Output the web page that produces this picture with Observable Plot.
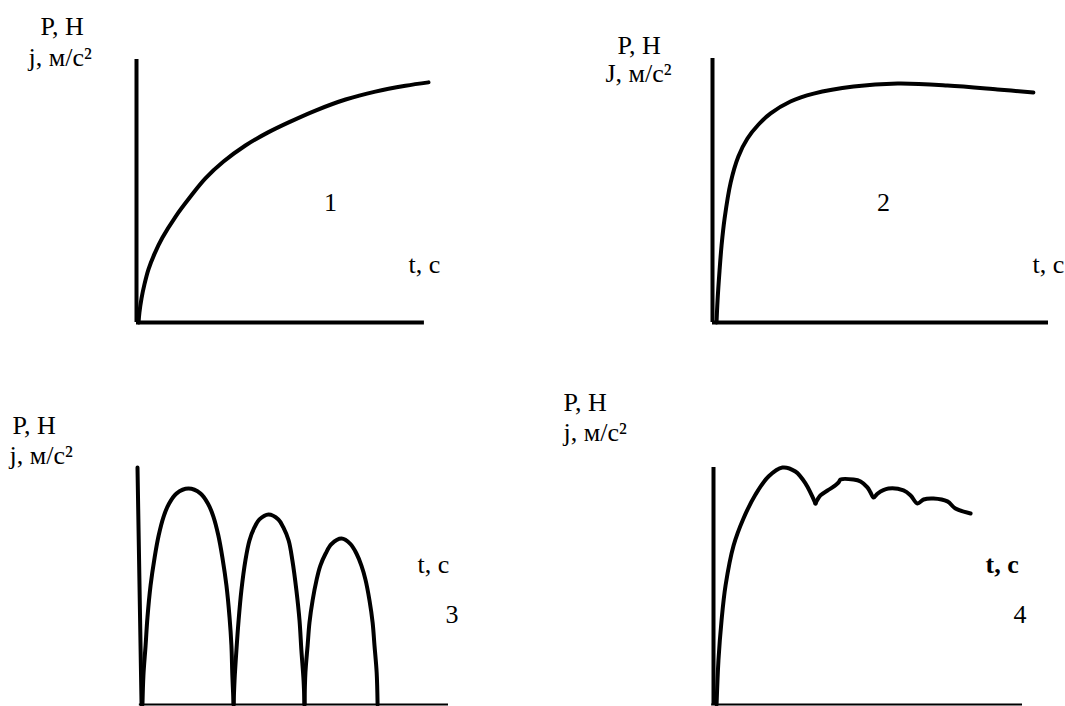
<!DOCTYPE html>
<html><head><meta charset="utf-8">
<script src="https://cdn.jsdelivr.net/npm/d3@7"></script>
<script src="https://cdn.jsdelivr.net/npm/@observablehq/plot@0.6"></script>
<style>
body{margin:0;background:#fff;}
#fig{position:relative;width:1065px;height:706px;overflow:hidden;background:#fff;}
.panel{position:absolute;}
#fig svg, #fig svg text{font-family:"Liberation Serif", "DejaVu Serif", serif !important;}
</style></head><body><div id="fig"></div>
<script>
// ---- Data (t in arbitrary seconds 0..10, value in % of axis height) ----
// Panel 1: smooth saturating rise
const t1 = [0.07, 0.10, 0.17, 0.27, 0.41, 0.62, 0.89, 1.34, 1.85, 2.36, 2.98, 3.73, 4.49, 5.27, 6.13, 7.16, 8.18, 9.21, 10.0];
const v1 = [0, 3.8, 9.1, 14.4, 20.2, 26.2, 32.3, 40.3, 47.9, 54.8, 61.2, 67.3, 72.2, 76.4, 80.6, 84.8, 87.8, 90.0, 91.3];
// Panel 2: fast rise, plateau, slight decline
const t2 = [0.12, 0.15, 0.21, 0.27, 0.36, 0.54, 0.77, 1.04, 1.37, 1.73, 2.32, 3.01, 4.20, 5.51, 6.99, 8.48, 9.55];
const v2 = [0, 8.3, 19.7, 29.2, 39.4, 53.0, 62.9, 69.7, 75.0, 79.2, 83.7, 86.7, 89.4, 90.5, 89.8, 88.3, 87.1];
// Panel 3: three decaying arches
const t3a = [0.16, 0.19, 0.26, 0.32, 0.42, 0.55, 0.68, 0.84, 1.00, 1.25, 1.64, 2.03, 2.28, 2.44, 2.60, 2.73, 2.86, 2.96, 3.02, 3.05, 3.09];
const v3a = [0, 12.2, 24.9, 36.7, 50.2, 62.0, 71.3, 79.3, 84.4, 89.0, 91.1, 89.0, 84.4, 79.3, 71.3, 62.0, 50.2, 36.7, 24.9, 12.2, 0];
const t3b = [3.09, 3.12, 3.18, 3.25, 3.34, 3.47, 3.60, 3.76, 3.92, 4.21, 4.53, 4.69, 4.86, 4.98, 5.11, 5.21, 5.27, 5.34, 5.37];
const v3b = [0, 10.1, 22.8, 35.4, 48.1, 60.8, 69.2, 74.7, 78.1, 80.2, 78.1, 74.7, 69.2, 60.8, 48.1, 35.4, 22.8, 10.1, 0];
const t3c = [5.37, 5.40, 5.47, 5.53, 5.63, 5.76, 5.88, 6.05, 6.24, 6.56, 6.85, 7.04, 7.20, 7.33, 7.46, 7.56, 7.62, 7.69, 7.72];
const v3c = [0, 13.5, 24.9, 34.6, 43.9, 52.7, 58.6, 63.7, 67.7, 70.0, 67.7, 63.7, 58.6, 52.7, 43.9, 34.6, 24.9, 13.5, 0];
// Panel 4: smooth rise to a peak, then a ragged decline
const t4a = [0.10, 0.16, 0.26, 0.39, 0.65, 0.97, 1.36, 1.78, 2.23, 2.65, 2.98, 3.30];
const v4a = [0, 18.6, 35.4, 50.2, 67.1, 78.5, 88.6, 96.2, 100, 98.3, 93.2, 84.8];
const t4b = [3.30, 3.46, 3.69, 3.85, 4.05, 4.11, 4.53, 4.76, 4.98, 5.08, 5.18, 5.31, 5.66, 6.15, 6.38, 6.60, 6.80, 7.12, 7.57, 7.83, 8.32];
const v4b = [84.8, 88.2, 90.3, 91.6, 93.7, 94.9, 94.9, 94.1, 91.6, 89.5, 87.3, 89.0, 91.1, 90.3, 88.2, 84.8, 86.5, 86.9, 85.7, 82.7, 80.6];
// Axis extents (data units)
const hAxis1 = [0, 9.86], hAxis2 = [0, 10], hAxis3 = [0.06, 10], hAxis4 = [-0.06, 10];
const vAxis3 = [[0.13, 0], [0, 100]];
// Texts
const yLabelTop = ["P, H", "P, H", "P, H", "P, H"];
const yLabelBottom = ["j, м/с²", "J, м/с²", "j, м/с²", "j, м/с²"];
const xLabel = "t, с";
const panelNumbers = ["1", "2", "3", "4"];

const FONT = "Liberation Serif, DejaVu Serif, serif";
const zip = (ts, vs, z) => ts.map((t, i) => ({t, v: vs[i], z}));

function makePanel(o) {
  const marks = [];
  marks.push(Plot.ruleY([0], {x1: o.hAxis[0], x2: o.hAxis[1], stroke: "#000", strokeWidth: o.hw}));
  if (o.vAxis) {
    marks.push(Plot.line(o.vAxis.map(([t, v]) => ({t, v})), {x: "t", y: "v", stroke: "#000", strokeWidth: 4}));
  } else {
    marks.push(Plot.ruleX([0], {y1: 0, y2: 100, stroke: "#000", strokeWidth: 4}));
  }
  for (const s of o.series) {
    marks.push(Plot.line(s.data, {x: "t", y: "v", z: "z", stroke: "#000", strokeWidth: 4, curve: s.curve, strokeLinejoin: "round"}));
  }
  for (const L of o.labels) {
    marks.push(Plot.text([L.text], {
      frameAnchor: "top-left", dx: L.dx, dy: L.dy, text: d => d,
      textAnchor: L.anchor || "start", lineAnchor: "bottom",
      fontSize: 26, fontFamily: FONT, fontWeight: L.bold ? "bold" : "normal", fill: "#000"
    }));
  }
  const svg = Plot.plot({
    width: o.w, height: o.h,
    marginLeft: o.m[0], marginTop: o.m[1], marginRight: o.m[2], marginBottom: o.m[3],
    x: {domain: [0, 10], axis: null},
    y: {domain: [0, 100], axis: null},
    style: {background: "transparent", overflow: "visible"},
    marks
  });
  const div = document.createElement("div");
  div.className = "panel";
  div.style.left = o.left + "px";
  div.style.top = o.top + "px";
  div.appendChild(svg);
  document.getElementById("fig").appendChild(div);
}

makePanel({
  left: 0, top: 0, w: 532, h: 353, m: [136, 59, 104, 31],
  series: [{data: zip(t1, v1, "a"), curve: "catmull-rom"}], hAxis: hAxis1, hw: 4,
  labels: [
    {text: yLabelTop[0], dx: -96, dy: -25},
    {text: yLabelBottom[0], dx: -108, dy: 6},
    {text: panelNumbers[0], dx: 194, dy: 151, anchor: "middle"},
    {text: xLabel, dx: 272, dy: 213}
  ]
});
makePanel({
  left: 532, top: 0, w: 533, h: 353, m: [180, 58, 17, 31],
  series: [{data: zip(t2, v2, "a"), curve: "catmull-rom"}], hAxis: hAxis2, hw: 4,
  labels: [
    {text: yLabelTop[1], dx: -95, dy: -5},
    {text: yLabelBottom[1], dx: -107, dy: 23},
    {text: panelNumbers[1], dx: 171, dy: 152, anchor: "middle"},
    {text: xLabel, dx: 320, dy: 214}
  ]
});
makePanel({
  left: 0, top: 353, w: 532, h: 353, m: [137, 114, 84, 2],
  series: [{data: [...zip(t3a, v3a, "a"), ...zip(t3b, v3b, "b"), ...zip(t3c, v3c, "c")], curve: "catmull-rom"}],
  hAxis: hAxis3, hw: 2, vAxis: vAxis3,
  labels: [
    {text: yLabelTop[2], dx: -125, dy: -34},
    {text: yLabelBottom[2], dx: -128, dy: -4},
    {text: xLabel, dx: 280, dy: 105},
    {text: panelNumbers[2], dx: 308, dy: 155}
  ]
});
makePanel({
  left: 532, top: 353, w: 533, h: 353, m: [181, 114, 43, 2],
  series: [{data: zip(t4a, v4a, "a"), curve: "catmull-rom"}, {data: zip(t4b, v4b, "b"), curve: "catmull-rom"}],
  hAxis: hAxis4, hw: 2,
  labels: [
    {text: yLabelTop[3], dx: -150, dy: -57},
    {text: yLabelBottom[3], dx: -150, dy: -27},
    {text: xLabel, dx: 272, dy: 105, bold: true},
    {text: panelNumbers[3], dx: 300, dy: 155}
  ]
});
</script>
</body></html>
